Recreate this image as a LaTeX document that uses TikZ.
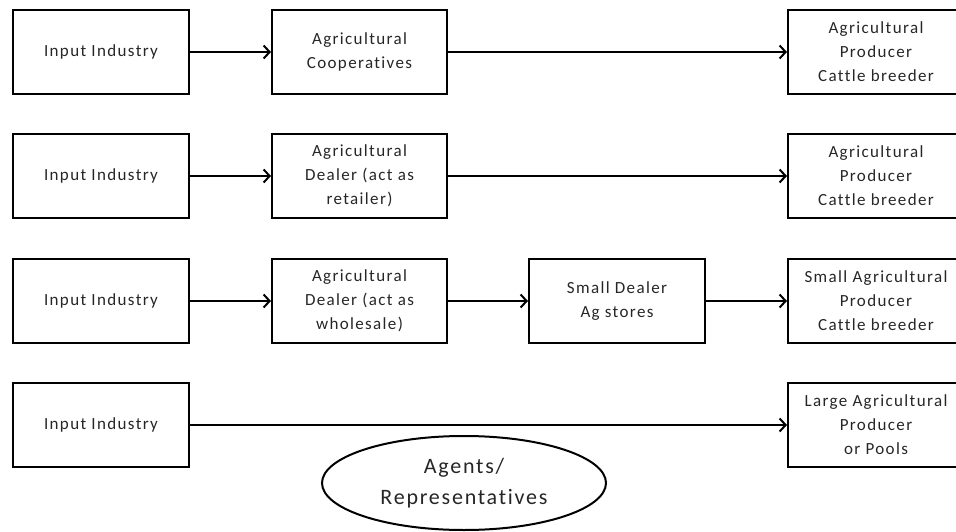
\documentclass[tikz,border=0pt]{standalone}
\usepackage{fontspec}
\setmainfont{Carlito}
\newfontfamily\boxfont[LetterSpace=8,Ligatures=NoCommon,RawFeature=-liga]{Carlito}
\usetikzlibrary{arrows.meta,shapes.geometric}
\begin{document}
\begin{tikzpicture}[x=1pt,y=-1pt,
  box/.style={draw, line width=2pt, minimum width=176pt, minimum height=84pt,
    align=center, inner sep=0pt, font=\boxfont\fontsize{17}{24}\selectfont, text=black!85},
  flow/.style={-{Straight Barb[length=6pt,width=13pt,line width=2pt]}, line width=2pt}]
\useasboundingbox (0,0) rectangle (956,532);
% row 1
\node[box] (in1) at (101,52) {Input Industry};
\node[box, minimum width=175pt] (coop) at (359.5,52) {Agricultural\\Cooperatives};
\node[box] (p1) at (876,52) {Agricultural\\Producer\\Cattle breeder};
% row 2
\node[box] (in2) at (101,176) {Input Industry};
\node[box, minimum width=175pt] (ret) at (359.5,176) {Agricultural\\Dealer (act as\\retailer)};
\node[box] (p2) at (876,176) {Agricultural\\Producer\\Cattle breeder};
% row 3
\node[box] (in3) at (101,301) {Input Industry};
\node[box, minimum width=175pt] (whl) at (359.5,301) {Agricultural\\Dealer (act as\\wholesale)};
\node[box] (sd) at (617,301) {Small Dealer\\Ag stores};
\node[box] (p3) at (876,301) {Small Agricultural\\Producer\\Cattle breeder};
% row 4
\node[box] (in4) at (101,425) {Input Industry};
\node[box] (p4) at (876,425) {Large Agricultural\\Producer\\or Pools};
% ellipse
\node[draw, ellipse, line width=2pt, minimum width=284pt, minimum height=94pt,
  inner sep=0pt, align=center, font=\boxfont\fontsize{22}{31}\selectfont, text=black!85]
  (ag) at (464,483) {Agents/\\Representatives};
% connectors
\draw[flow] (in1) -- (coop);
\draw[flow] (coop) -- (p1);
\draw[flow] (in2) -- (ret);
\draw[flow] (ret) -- (p2);
\draw[flow] (in3) -- (whl);
\draw[flow] (whl) -- (sd);
\draw[flow] (sd) -- (p3);
\draw[flow] (in4) -- (p4);
\end{tikzpicture}
\end{document}
